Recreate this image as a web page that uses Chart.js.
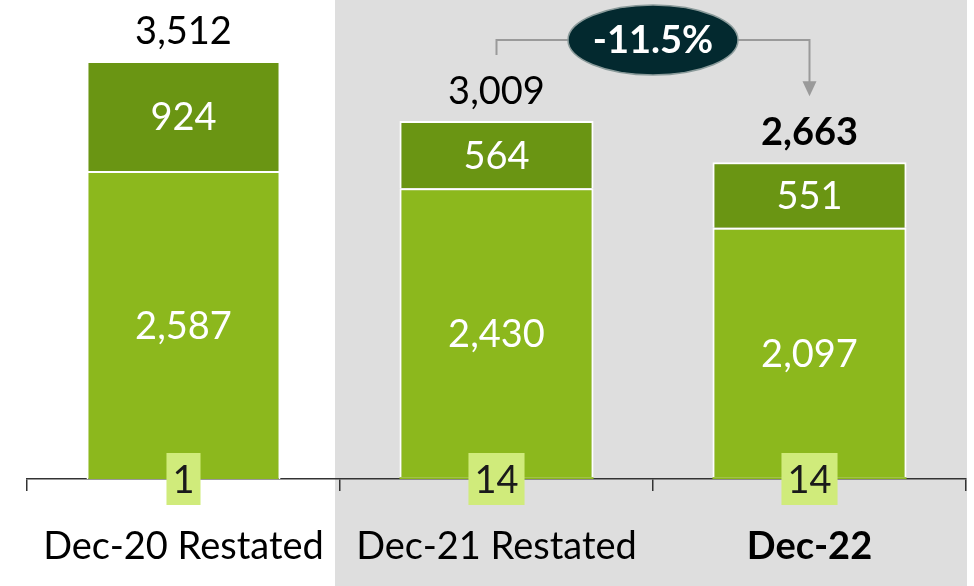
<!DOCTYPE html>
<html><head><meta charset="utf-8">
<script src="https://cdn.jsdelivr.net/npm/chart.js@4"></script>
<style>html,body{margin:0;padding:0;background:#fff}#wrap{width:974px;height:586px;position:relative}</style>
</head><body><div id="wrap"><canvas id="c" width="974" height="586"></canvas></div>
<script>
const categories = ['Dec-20 Restated', 'Dec-21 Restated', 'Dec-22'];
const baseValues = [1, 14, 14];
const midValues = [2587, 2430, 2097];
const topValues = [924, 564, 551];
const totals = [3512, 3009, 2663];
const changeLabel = '-11.5%';

const FONT = 'Lato';
const FS = 38;
const fmt = v => v.toLocaleString('en-US');

const overlay = {
  id: 'overlay',
  beforeDraw(chart) {
    const {ctx, chartArea, scales} = chart;
    const x = scales.x;
    const bx = (x.getPixelForValue(0) + x.getPixelForValue(1)) / 2 - 5;
    ctx.save();
    ctx.fillStyle = '#dedede';
    ctx.fillRect(bx, 0, chartArea.right + 1 - bx, chart.height);
    ctx.restore();
  },
  afterDraw(chart) {
    const {ctx, chartArea} = chart;
    const midMeta = chart.getDatasetMeta(1);
    const topMeta = chart.getDatasetMeta(2);
    ctx.save();
    ctx.textAlign = 'center';
    ctx.textBaseline = 'middle';
    for (let i = 0; i < categories.length; i++) {
      const m = midMeta.data[i], t = topMeta.data[i];
      ctx.fillStyle = '#ffffff';
      ctx.font = `${FS}px ${FONT}`;
      ctx.fillText(fmt(midValues[i]), m.x, (m.y + m.base) / 2 + 2);
      ctx.fillText(fmt(topValues[i]), t.x, (t.y + t.base) / 2 + 2);
      // totals
      ctx.fillStyle = '#000000';
      ctx.font = `${i === 2 ? 'bold ' : ''}${FS}px ${FONT}`;
      ctx.fillText(fmt(totals[i]), t.x, t.y - 29);
      // base box
      const txt = fmt(baseValues[i]);
      ctx.font = `${FS}px ${FONT}`;
      const w = ctx.measureText(txt).width + 12;
      const by = chartArea.bottom;
      ctx.fillStyle = '#d0eb7b';
      ctx.fillRect(t.x - w / 2, by - 26, w, 52);
      ctx.fillStyle = '#1a1a1a';
      ctx.fillText(txt, t.x, by + 2);
    }
    // change arrow
    const t1 = topMeta.data[1], t2 = topMeta.data[2];
    const ex = (t1.x + t2.x) / 2, ey = 40;
    ctx.strokeStyle = '#9a9a9a';
    ctx.fillStyle = '#9a9a9a';
    ctx.lineWidth = 2;
    ctx.beginPath();
    ctx.moveTo(t1.x, t1.y - 66);
    ctx.lineTo(t1.x, ey);
    ctx.lineTo(t2.x, ey);
    ctx.lineTo(t2.x, t2.y - 78);
    ctx.stroke();
    ctx.beginPath();
    ctx.moveTo(t2.x - 7, t2.y - 81);
    ctx.lineTo(t2.x + 7, t2.y - 81);
    ctx.lineTo(t2.x, t2.y - 66);
    ctx.closePath();
    ctx.fill();
    ctx.beginPath();
    ctx.ellipse(ex, ey, 85, 35, 0, 0, Math.PI * 2);
    ctx.fillStyle = '#03292f';
    ctx.fill();
    ctx.lineWidth = 1.5;
    ctx.strokeStyle = '#8a9a9a';
    ctx.stroke();
    ctx.fillStyle = '#ffffff';
    ctx.font = `bold ${FS}px ${FONT}`;
    ctx.fillText(changeLabel, ex, ey + 1);
    ctx.restore();
  }
};

new Chart(document.getElementById('c'), {
  type: 'bar',
  data: {
    labels: categories,
    datasets: [
      {data: baseValues, backgroundColor: '#8cb81d', borderColor: '#ffffff', borderWidth: 0},
      {data: midValues, backgroundColor: '#8cb81d', borderColor: '#ffffff', borderWidth: 2},
      {data: topValues, backgroundColor: '#6a9513', borderColor: '#ffffff', borderWidth: 2}
    ]
  },
  options: {
    responsive: false,
    animation: false,
    devicePixelRatio: 1,
    layout: {padding: {top: 3, left: 27, right: 8, bottom: 0}},
    plugins: {legend: {display: false}, tooltip: {enabled: false}},
    datasets: {bar: {barPercentage: 0.62, categoryPercentage: 1}},
    scales: {
      y: {stacked: true, display: false, min: 0, max: 4000},
      x: {
        stacked: true,
        offset: true,
        afterFit(scale) { scale.height = 107; },
        grid: {offset: true, drawOnChartArea: false, drawTicks: true, tickLength: 12, color: '#333333', lineWidth: 1.5},
        border: {display: true, color: '#333333', width: 1.5},
        ticks: {
          color: '#000000',
          padding: 33,
          font: (c) => ({family: FONT, size: FS, weight: c.index === 2 ? 'bold' : 'normal'})
        }
      }
    }
  },
  plugins: [overlay]
});
</script></body></html>
